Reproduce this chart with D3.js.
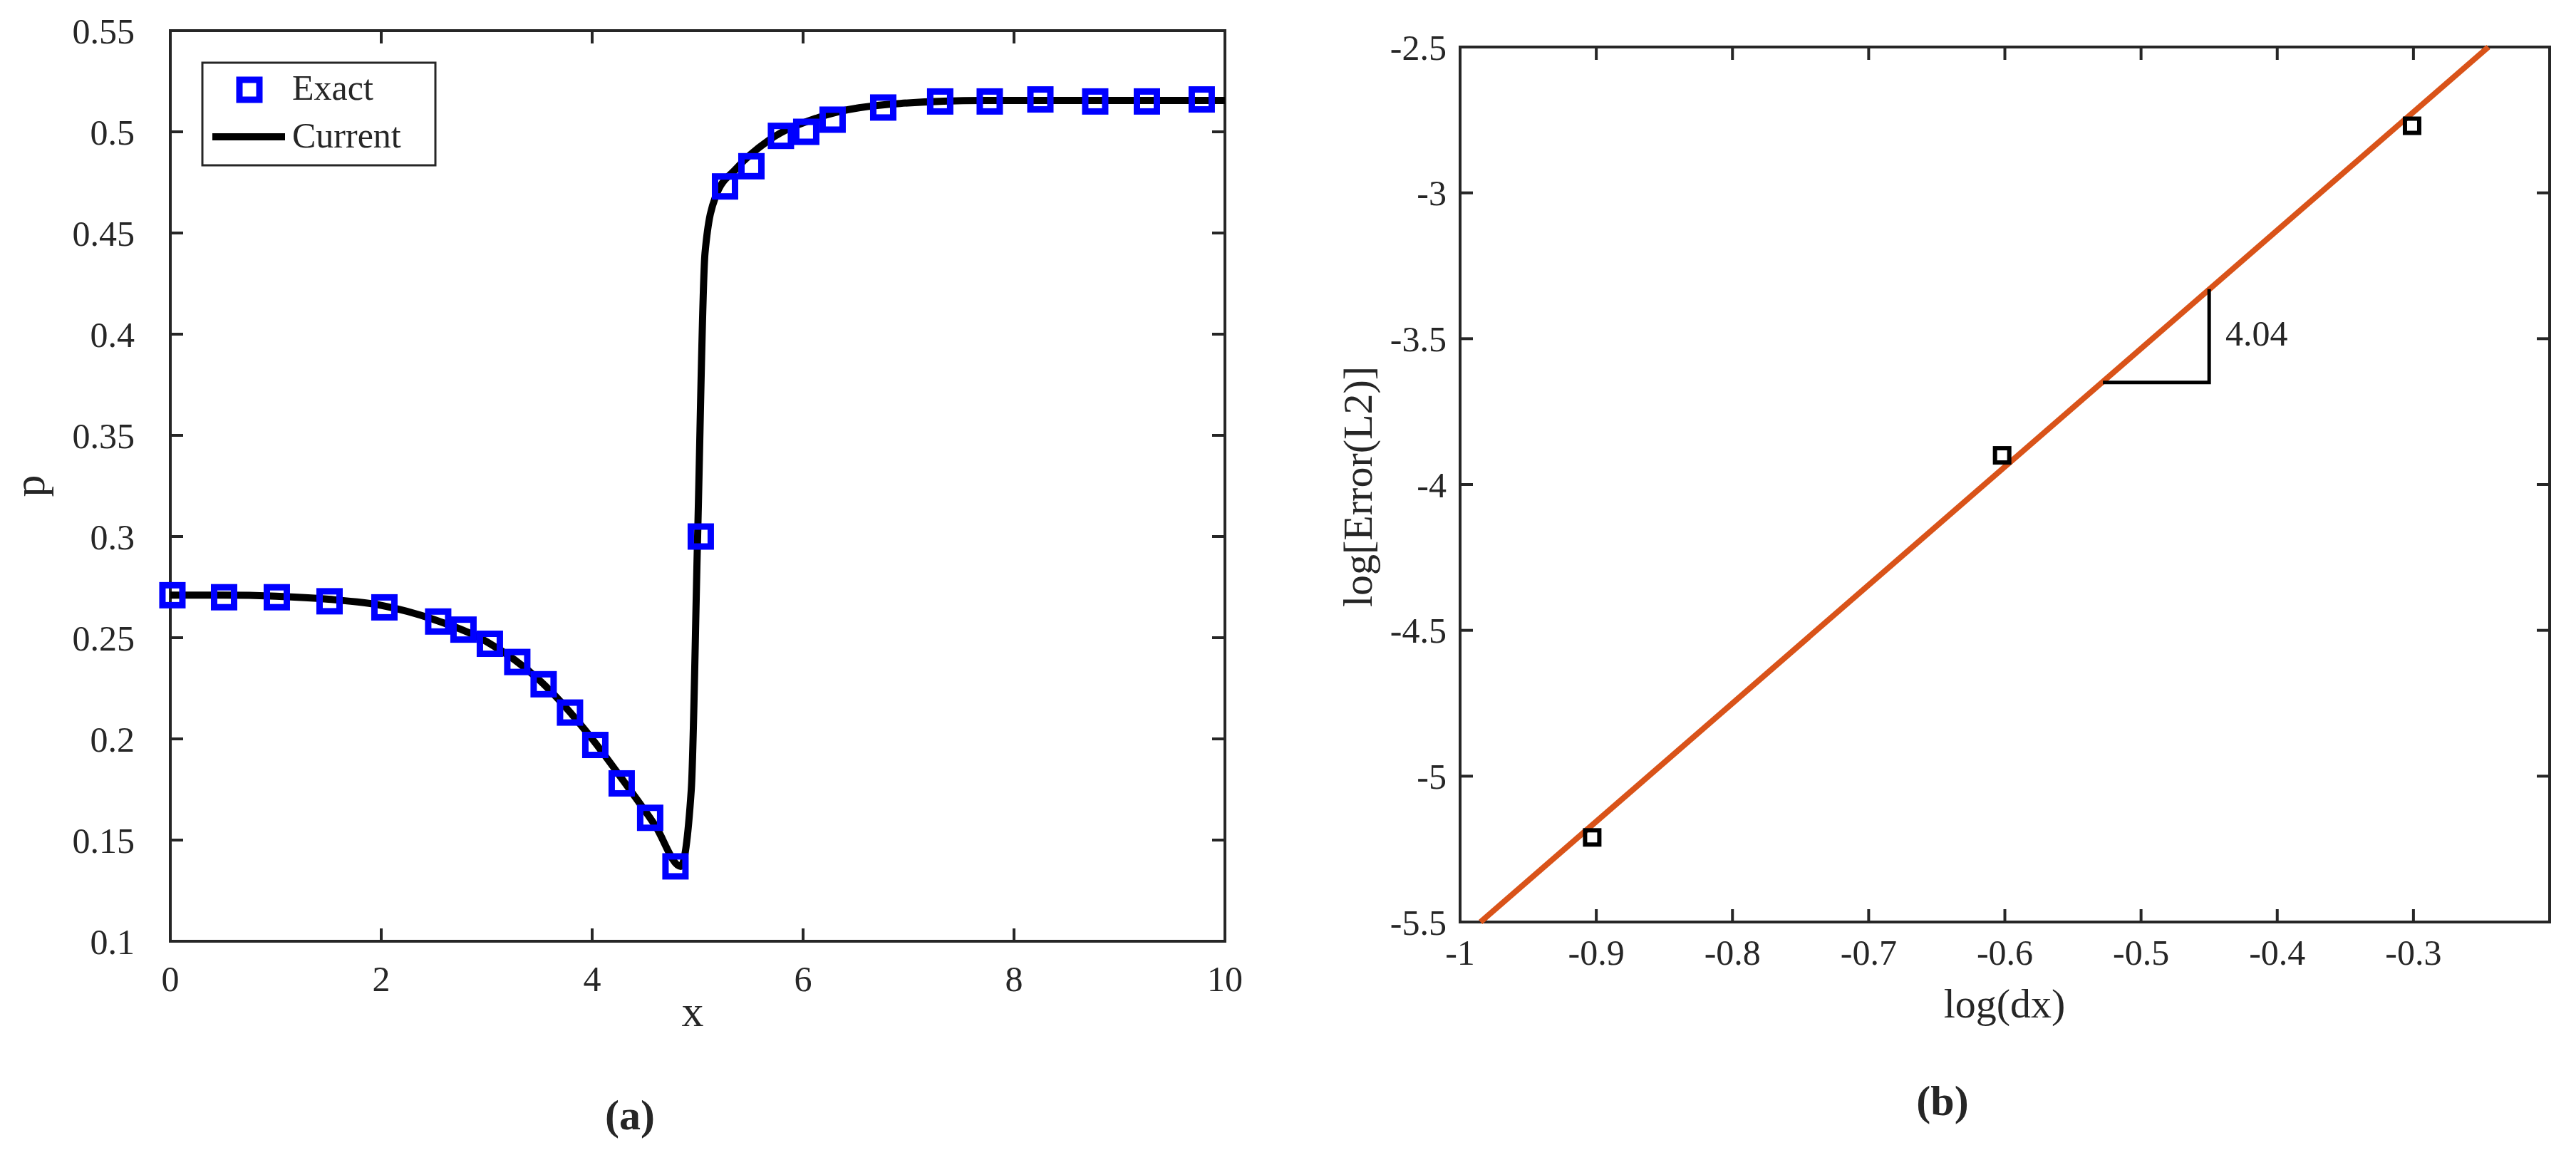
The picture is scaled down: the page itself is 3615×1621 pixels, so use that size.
<!DOCTYPE html>
<html>
<head>
<meta charset="utf-8">
<script src="https://cdn.jsdelivr.net/npm/d3@7"></script>
<style>
  body { margin: 0; background: #fff; }
  text { font-family: "Liberation Serif", serif; fill: #262626; }
</style>
</head>
<body>
<svg id="chart" width="3615" height="1621"></svg>
<script>
// panel (a) data
const exactX = [0.02, 0.51, 1.01, 1.51, 2.03, 2.54, 2.78, 3.03, 3.29, 3.54, 3.79, 4.03, 4.28, 4.55, 4.79, 5.03, 5.26, 5.51, 5.79, 6.03, 6.28, 6.76, 7.30, 7.77, 8.25, 8.77, 9.26, 9.78]
const exactP = [0.271, 0.270, 0.270, 0.268, 0.265, 0.258, 0.254, 0.247, 0.238, 0.227, 0.213, 0.197, 0.178, 0.161, 0.137, 0.300, 0.473, 0.483, 0.498, 0.500, 0.506, 0.512, 0.515, 0.515, 0.516, 0.515, 0.515, 0.516]
const currentX = [0, 0.5, 1, 1.5, 2, 2.5, 3, 3.5, 4, 4.3, 4.6, 4.84, 4.94, 5.0, 5.07, 5.17, 5.37, 5.68, 6.14, 6.92, 7.7, 10]
const currentP = [0.271, 0.271, 0.2705, 0.269, 0.266, 0.259, 0.248, 0.229, 0.200, 0.179, 0.157, 0.137, 0.175, 0.30, 0.44, 0.468, 0.482, 0.496, 0.507, 0.514, 0.5155, 0.5155]
const aTicksX = [0, 2, 4, 6, 8, 10]
const aTicksY = [0.1, 0.15, 0.2, 0.25, 0.3, 0.35, 0.4, 0.45, 0.5, 0.55]

// panel (b) data
const logDx = [-0.903, -0.602, -0.301]
const logErr = [-5.21, -3.90, -2.77]
const fitX = [-0.985, -0.245]
const fitY = [-5.5, -2.5]
const triX = [-0.528, -0.45, -0.45]
const triY = [-3.65, -3.65, -3.33]
const slopeLabel = "4.04"
const bTicksX = [-1, -0.9, -0.8, -0.7, -0.6, -0.5, -0.4, -0.3]
const bTicksY = [-5.5, -5, -4.5, -4, -3.5, -3, -2.5]

const svg = d3.select("#chart")
const axisColor = "#262626"

function frame(g, x, y, xt, yt, labelGapY, labelGapX, tickSize) {
  const [x0, x1] = x.range(), [y1, y0] = y.range()
  g.append("rect").attr("x", x0).attr("y", y0).attr("width", x1 - x0).attr("height", y1 - y0)
    .attr("fill", "none").attr("stroke", axisColor).attr("stroke-width", 4)
  xt.forEach(v => {
    g.append("line").attr("x1", x(v)).attr("x2", x(v)).attr("y1", y1).attr("y2", y1 - tickSize).attr("stroke", axisColor).attr("stroke-width", 4)
    g.append("line").attr("x1", x(v)).attr("x2", x(v)).attr("y1", y0).attr("y2", y0 + tickSize).attr("stroke", axisColor).attr("stroke-width", 4)
    g.append("text").attr("x", x(v)).attr("y", y1 + labelGapX).attr("text-anchor", "middle")
      .attr("font-size", 50).text(String(v))
  })
  yt.forEach(v => {
    g.append("line").attr("x1", x0).attr("x2", x0 + tickSize).attr("y1", y(v)).attr("y2", y(v)).attr("stroke", axisColor).attr("stroke-width", 4)
    g.append("line").attr("x1", x1).attr("x2", x1 - tickSize).attr("y1", y(v)).attr("y2", y(v)).attr("stroke", axisColor).attr("stroke-width", 4)
    g.append("text").attr("x", x0 - labelGapY).attr("y", y(v)).attr("dy", "0.35em").attr("text-anchor", "end")
      .attr("font-size", 50).text(String(v))
  })
}

// ---- panel (a)
const ax = d3.scaleLinear().domain([0, 10]).range([239, 1719])
const ay = d3.scaleLinear().domain([0.1, 0.55]).range([1321, 43])
const ga = svg.append("g")
frame(ga, ax, ay, aTicksX, aTicksY, 50, 70, 18)

ga.append("path")
  .datum(currentX.map((v, i) => [v, currentP[i]]))
  .attr("d", d3.line().x(d => ax(d[0])).y(d => ay(d[1])).curve(d3.curveMonotoneX))
  .attr("fill", "none").attr("stroke", "#000").attr("stroke-width", 10).attr("stroke-linejoin", "round")

ga.selectAll("rect.exact").data(exactX).enter().append("rect")
  .attr("class", "exact")
  .attr("x", (d) => ax(d) - 14).attr("y", (d, i) => ay(exactP[i]) - 14)
  .attr("width", 28).attr("height", 28)
  .attr("fill", "none").attr("stroke", "#0000ff").attr("stroke-width", 9)

// legend
const lg = ga.append("g")
lg.append("rect").attr("x", 284).attr("y", 88).attr("width", 327).attr("height", 144)
  .attr("fill", "#fff").attr("stroke", axisColor).attr("stroke-width", 3)
lg.append("rect").attr("x", 336).attr("y", 112).attr("width", 28).attr("height", 28)
  .attr("fill", "none").attr("stroke", "#0000ff").attr("stroke-width", 9)
lg.append("text").attr("x", 410).attr("y", 140).attr("font-size", 50).attr("fill", "#000").text("Exact")
lg.append("line").attr("x1", 298).attr("x2", 400).attr("y1", 192).attr("y2", 192).attr("stroke", "#000").attr("stroke-width", 10)
lg.append("text").attr("x", 410).attr("y", 207).attr("font-size", 50).attr("fill", "#000").text("Current")

ga.append("text").attr("x", 972).attr("y", 1440).attr("text-anchor", "middle").attr("font-size", 62).text("x")
ga.append("text").attr("transform", "translate(62,682) rotate(-90)").attr("text-anchor", "middle").attr("font-size", 62).text("p")
ga.append("text").attr("x", 884).attr("y", 1585).attr("text-anchor", "middle").attr("font-size", 60)
  .attr("font-weight", "bold").attr("fill", "#000").text("(a)")

// ---- panel (b)
const bx = d3.scaleLinear().domain([-1, -0.2]).range([2049, 3578])
const by = d3.scaleLinear().domain([-5.5, -2.5]).range([1294, 66])
const gb = svg.append("g")
frame(gb, bx, by, bTicksX, bTicksY, 19, 60, 18)

gb.append("path")
  .datum(fitX.map((v, i) => [v, fitY[i]]))
  .attr("d", d3.line().x(d => bx(d[0])).y(d => by(d[1])))
  .attr("stroke", "#D95319").attr("stroke-width", 8).attr("fill", "none")

gb.append("path")
  .datum(triX.map((v, i) => [v, triY[i]]))
  .attr("d", d3.line().x(d => bx(d[0])).y(d => by(d[1])))
  .attr("stroke", "#000").attr("stroke-width", 5).attr("fill", "none")
gb.append("text").attr("x", bx(-0.438)).attr("y", by(-3.48)).attr("dy", "0.35em")
  .attr("font-size", 50).attr("fill", "#000").text(slopeLabel)

gb.selectAll("rect.pt").data(logDx).enter().append("rect")
  .attr("class", "pt")
  .attr("x", d => bx(d) - 10).attr("y", (d, i) => by(logErr[i]) - 10)
  .attr("width", 20).attr("height", 20)
  .attr("fill", "none").attr("stroke", "#000").attr("stroke-width", 6)

gb.append("text").attr("x", 2813).attr("y", 1428).attr("text-anchor", "middle").attr("font-size", 58).text("log(dx)")
gb.append("text").attr("transform", "translate(1925,683) rotate(-90)").attr("text-anchor", "middle").attr("font-size", 58).text("log[Error(L2)]")
gb.append("text").attr("x", 2726).attr("y", 1565).attr("text-anchor", "middle").attr("font-size", 60)
  .attr("font-weight", "bold").attr("fill", "#000").text("(b)")
</script>
</body>
</html>
